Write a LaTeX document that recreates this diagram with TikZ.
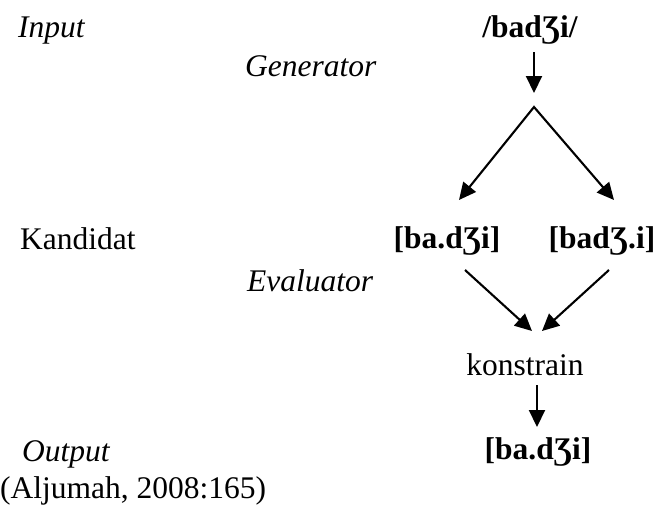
\documentclass[tikz,border=0pt]{standalone}
\usepackage{fontspec}
\setmainfont{Liberation Serif}
\usetikzlibrary{arrows.meta}

\begin{document}
\begin{tikzpicture}[x=1pt,y=-1pt,
  txt/.style={inner sep=0pt, font=\fontsize{31.5}{36}\selectfont},
  lbl/.style={txt, anchor=base west, font=\fontsize{31.5}{36}\selectfont\itshape},
  form/.style={txt, anchor=base, font=\fontsize{31.5}{36}\selectfont\bfseries},
  tip/.tip={Triangle[length=17pt,width=16pt]},
  arr/.style={line width=2.1pt, -tip},
  arrboth/.style={line width=2.1pt, tip-tip, line join=miter}]
  \useasboundingbox (0,0) rectangle (657,509);

  % stage labels
  \node[lbl] (input) at (18,37) {Input};
  \node[lbl] (gen)   at (245,76) {Generator};
  \node[txt, anchor=base west] (kand) at (20,249) {Kandidat};
  \node[lbl] (eval)  at (247,291) {Evaluator};
  \node[lbl] (outp)  at (22,461) {Output};
  \node[txt, anchor=base west] (src) at (0,498) {(Aljumah, 2008:165)};

  % forms
  \node[form] (ur)   at (530,37)  {/badƷi/};
  \node[form] (c1)   at (447,248) {[ba.dƷi]};
  \node[form] (c2)   at (602,248) {[badƷ.i]};
  \node[txt, anchor=base] (con) at (525,375) {konstrain};
  \node[form] (out)  at (538,459) {[ba.dƷi]};

  % connector points
  \coordinate (urS)   at (534,52);
  \coordinate (urT)   at (534,93);
  \coordinate (apex)  at (534,107);
  \coordinate (c1T)   at (459,200);
  \coordinate (c2T)   at (614,200);
  \coordinate (c1S)   at (465,270);
  \coordinate (c2S)   at (609,270);
  \coordinate (conL)  at (532,331);
  \coordinate (conR)  at (542,331);
  \coordinate (conS)  at (537,385);
  \coordinate (outT)  at (537,427);

  \draw[arr] (urS) -- (urT);
  \draw[arrboth] (c1T) -- (apex) -- (c2T);
  \draw[arr] (c1S) -- (conL);
  \draw[arr] (c2S) -- (conR);
  \draw[arr] (conS) -- (outT);
\end{tikzpicture}
\end{document}
